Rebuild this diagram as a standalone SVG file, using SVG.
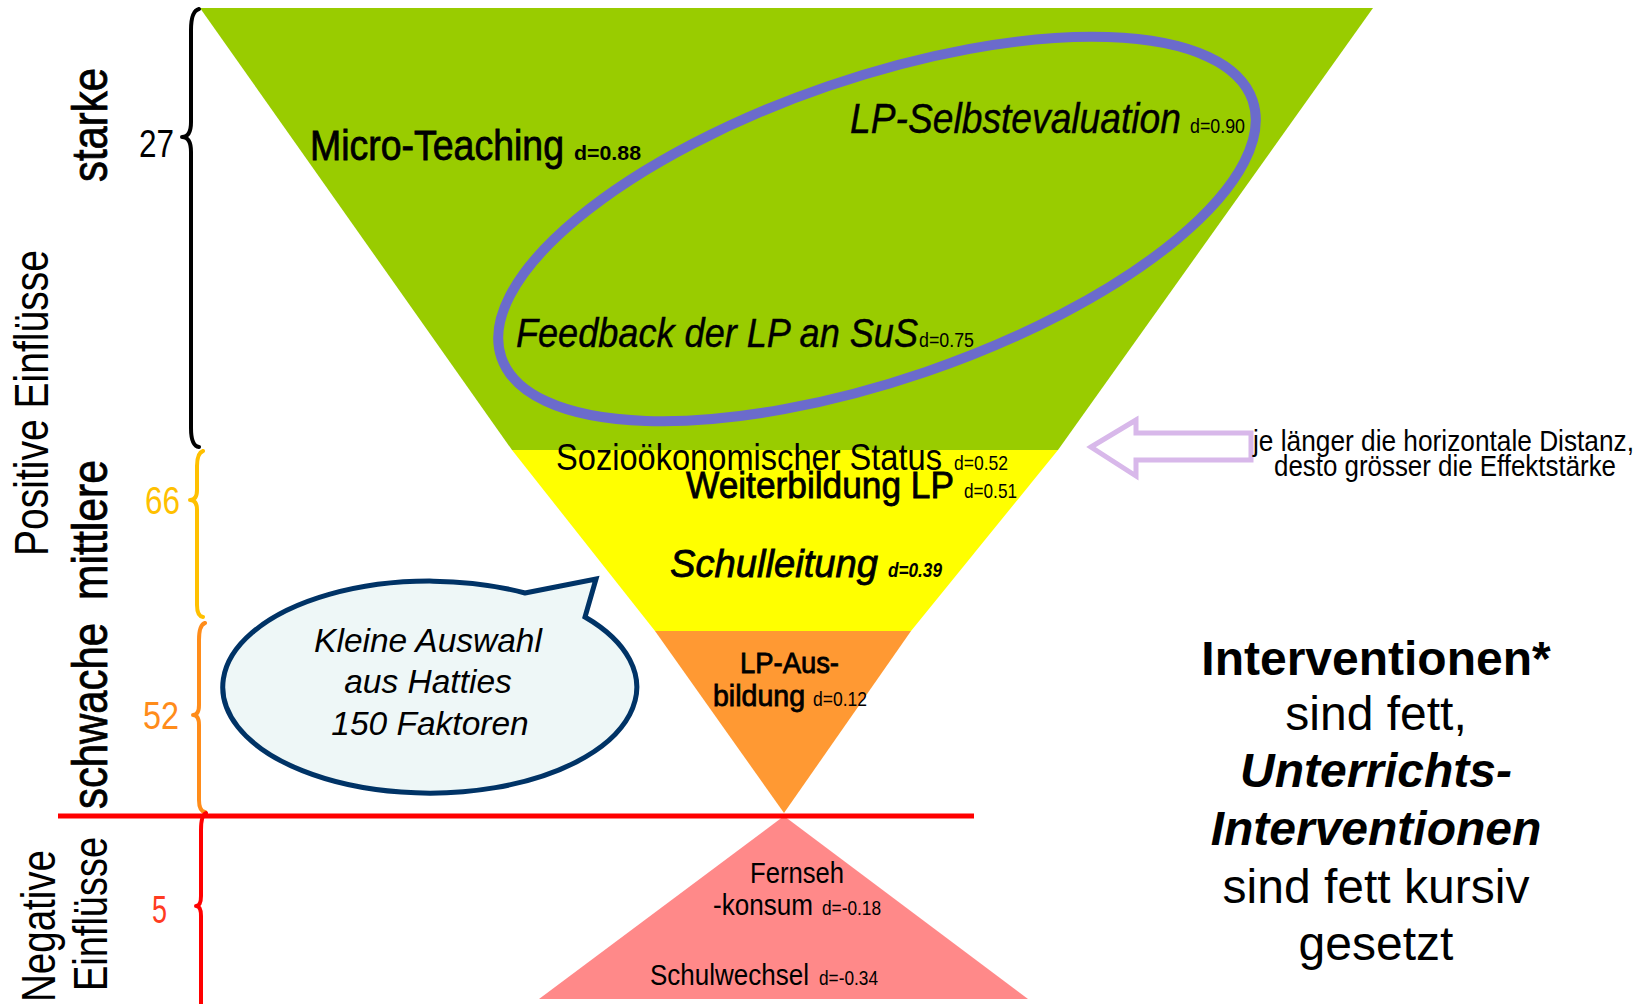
<svg xmlns="http://www.w3.org/2000/svg" width="1650" height="1004" viewBox="0 0 1650 1004">
<style>
.n{font-family:"Liberation Sans Narrow","Liberation Sans",Arial,sans-serif;fill:#000}
.a{font-family:"Liberation Sans",Arial,sans-serif;fill:#000}
.b{font-weight:bold}
.i{font-style:italic}
.m{stroke:#000;stroke-width:0.8}
.brace{fill:none;stroke-width:4;stroke-linecap:round;stroke-linejoin:round}
</style>
<rect width="1650" height="1004" fill="#fff"/>
<g id="band-green"><polygon points="200,8 1373,8 1058,450 512,450" fill="#99CC00"/></g>
<g id="band-yellow"><polygon points="512,450 1058,450 911,631 655,631" fill="#FFFF00"/></g>
<g id="band-orange"><polygon points="655,631 911,631 784,813" fill="#FF9933"/></g>
<g id="band-pink"><polygon points="784,816 1028,999 539,999" fill="#FF8989"/></g>
<g id="red-line"><line x1="58" y1="816" x2="974" y2="816" stroke="#FF0000" stroke-width="5"/></g>
<g id="highlight-ellipse"><ellipse cx="877" cy="229" rx="397" ry="151" transform="rotate(-18.9 877 229)" fill="none" stroke="#6B6BCC" stroke-width="10"/></g>

<g id="green-texts">
<text class="n m" x="310" y="160" font-size="42" textLength="254" lengthAdjust="spacingAndGlyphs">Micro-Teaching</text>
<text class="n b" x="574" y="160" font-size="21" textLength="67" lengthAdjust="spacingAndGlyphs">d=0.88</text>
<text class="n i" x="850" y="133" font-size="42" textLength="331" lengthAdjust="spacingAndGlyphs" style="stroke:#000;stroke-width:0.4">LP-Selbstevaluation</text>
<text class="n" x="1190" y="133" font-size="20" textLength="55" lengthAdjust="spacingAndGlyphs">d=0.90</text>
<text class="n i" x="516" y="347" font-size="41" textLength="402" lengthAdjust="spacingAndGlyphs" style="stroke:#000;stroke-width:0.4">Feedback der LP an SuS</text>
<text class="n" x="919" y="347" font-size="20" textLength="55" lengthAdjust="spacingAndGlyphs">d=0.75</text>
</g>
<g id="yellow-texts">
<text class="n" x="556" y="470" font-size="37" textLength="386" lengthAdjust="spacingAndGlyphs">Sozioökonomischer Status</text>
<text class="n" x="954" y="470" font-size="21" textLength="54" lengthAdjust="spacingAndGlyphs">d=0.52</text>
<text class="n m" x="686" y="498" font-size="37" textLength="268" lengthAdjust="spacingAndGlyphs">Weiterbildung LP</text>
<text class="n" x="964" y="498" font-size="21" textLength="53" lengthAdjust="spacingAndGlyphs">d=0.51</text>
<text class="n i m" x="670" y="577" font-size="39" textLength="208" lengthAdjust="spacingAndGlyphs">Schulleitung</text>
<text class="n b i" x="888" y="577" font-size="20" textLength="54" lengthAdjust="spacingAndGlyphs">d=0.39</text>
</g>
<g id="orange-texts">
<text class="n m" x="740" y="673" font-size="29" textLength="99" lengthAdjust="spacingAndGlyphs">LP-Aus-</text>
<text class="n m" x="713" y="706" font-size="29" textLength="92" lengthAdjust="spacingAndGlyphs">bildung</text>
<text class="n" x="813" y="706" font-size="20" textLength="54" lengthAdjust="spacingAndGlyphs">d=0.12</text>
</g>
<g id="pink-texts">
<text class="n" x="750" y="883" font-size="29" textLength="94" lengthAdjust="spacingAndGlyphs">Fernseh</text>
<text class="n" x="713" y="915" font-size="29" textLength="100" lengthAdjust="spacingAndGlyphs">-konsum</text>
<text class="n" x="822" y="915" font-size="20" textLength="59" lengthAdjust="spacingAndGlyphs">d=-0.18</text>
<text class="n" x="650" y="985" font-size="29" textLength="159" lengthAdjust="spacingAndGlyphs">Schulwechsel</text>
<text class="n" x="819" y="985" font-size="20" textLength="59" lengthAdjust="spacingAndGlyphs">d=-0.34</text>
</g>

<g id="side-labels">
<text class="n" transform="translate(48,556) rotate(-90)" font-size="48" textLength="306" lengthAdjust="spacingAndGlyphs">Positive Einflüsse</text>
<text class="n m" transform="translate(107,182) rotate(-90)" font-size="50" textLength="114" lengthAdjust="spacingAndGlyphs">starke</text>
<text class="n m" transform="translate(107,600) rotate(-90)" font-size="50" textLength="140" lengthAdjust="spacingAndGlyphs">mittlere</text>
<text class="n m" transform="translate(107,809) rotate(-90)" font-size="50" textLength="186" lengthAdjust="spacingAndGlyphs">schwache</text>
<text class="n" transform="translate(55,1002) rotate(-90)" font-size="48" textLength="152" lengthAdjust="spacingAndGlyphs">Negative</text>
<text class="n" transform="translate(107,991) rotate(-90)" font-size="48" textLength="154" lengthAdjust="spacingAndGlyphs">Einflüsse</text>
</g>
<g id="counts">
<text class="n" x="139" y="157" font-size="39" textLength="35" lengthAdjust="spacingAndGlyphs">27</text>
<text class="n" x="145" y="514" font-size="39" textLength="35" lengthAdjust="spacingAndGlyphs" style="fill:#FFC000">66</text>
<text class="n" x="143" y="729" font-size="39" textLength="36" lengthAdjust="spacingAndGlyphs" style="fill:#FF8C1A">52</text>
<text class="n" x="152" y="923" font-size="39" textLength="15" lengthAdjust="spacingAndGlyphs" style="fill:#FF3B21">5</text>
</g>
<g id="braces">
<path class="brace" stroke="#000" d="M199 9 Q191 11 191 30 L191 122 Q191 137 182 137 Q191 137 191 152 L191 428 Q191 446 199 447"/>
<path class="brace" stroke="#FFC000" d="M203 451 Q197 453 197 466 L197 490 Q197 500 190 500 Q197 500 197 510 L197 605 Q197 616 203 617"/>
<path class="brace" stroke="#FF8C1A" d="M205 623 Q199 625 199 640 L199 705 Q199 715 193 715 Q199 715 199 725 L199 800 Q199 811 205 812"/>
<path class="brace" stroke="#FF0000" d="M206 813 Q201 815 201 830 L201 896 Q201 906 196 906 Q201 906 201 916 L201 1006"/>
</g>

<g id="arrow-note">
<polygon points="1091,447 1136,420 1136,433 1251,433 1251,460 1136,460 1136,476" fill="none" stroke="#D8B8EA" stroke-width="5" stroke-linejoin="miter"/>
<text class="n" x="1253" y="451" font-size="30" textLength="381" lengthAdjust="spacingAndGlyphs">je länger die horizontale Distanz,</text>
<text class="n" x="1274" y="476" font-size="30" textLength="342" lengthAdjust="spacingAndGlyphs">desto grösser die Effektstärke</text>
</g>

<g id="speech-bubble">
<path d="M525 593 L596 579 L585 617 A207 106 0 1 1 525 593 Z" fill="#EEF7F7" stroke="#003366" stroke-width="5" stroke-linejoin="miter"/>
<text class="a i" x="428" y="652" font-size="33.5" text-anchor="middle">Kleine Auswahl</text>
<text class="a i" x="428" y="693" font-size="33.5" text-anchor="middle">aus Hatties</text>
<text class="a i" x="430" y="735" font-size="33.5" text-anchor="middle">150 Faktoren</text>
</g>

<g id="legend">
<text class="a b" x="1376" y="675" font-size="48" text-anchor="middle">Interventionen*</text>
<text class="a" x="1376" y="730" font-size="48" text-anchor="middle">sind fett,</text>
<text class="a b i" x="1376" y="787" font-size="48" text-anchor="middle">Unterrichts-</text>
<text class="a b i" x="1376" y="845" font-size="48" text-anchor="middle">Interventionen</text>
<text class="a" x="1376" y="903" font-size="48" text-anchor="middle">sind fett kursiv</text>
<text class="a" x="1376" y="960" font-size="48" text-anchor="middle">gesetzt</text>
</g>
</svg>
